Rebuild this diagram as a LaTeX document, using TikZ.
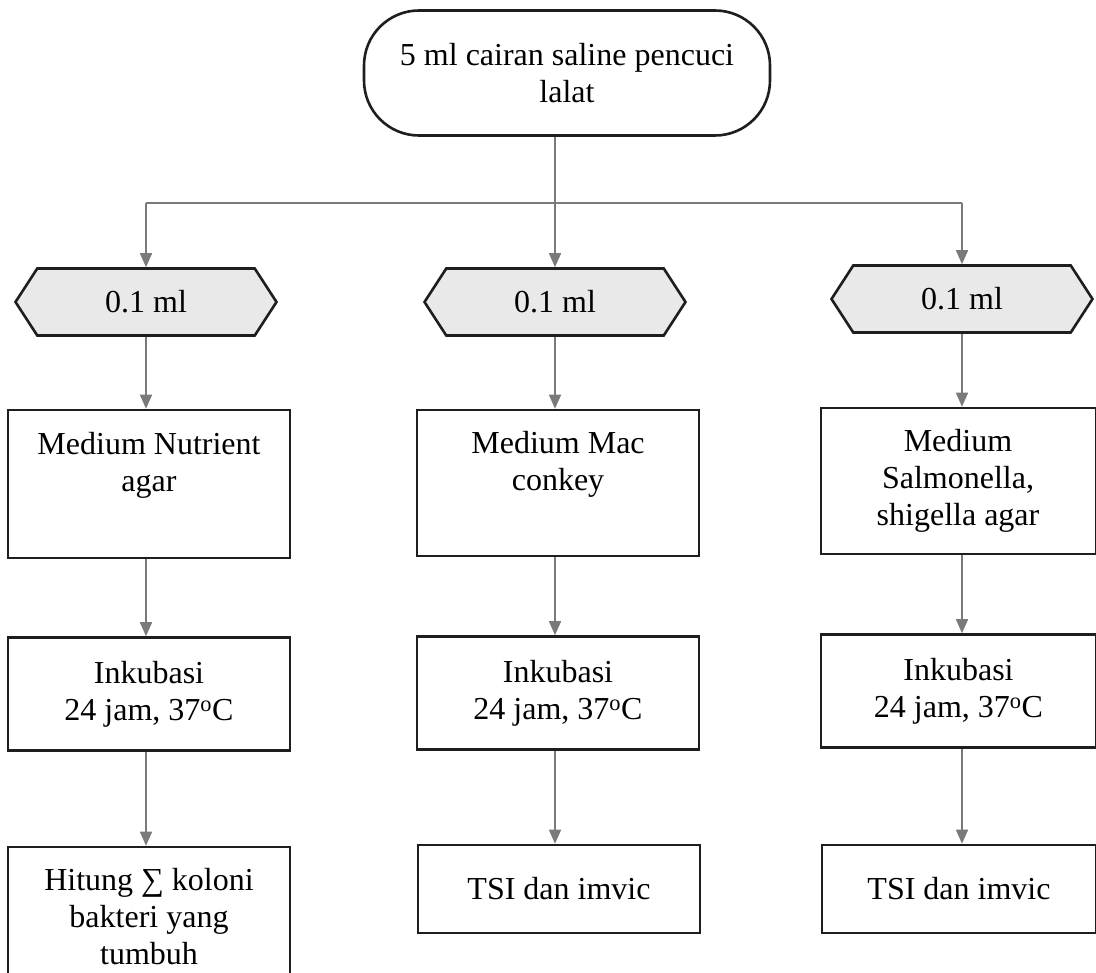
\documentclass[tikz,border=0pt]{standalone}
\usepackage{fontspec}
\setmainfont{Liberation Serif}
\usetikzlibrary{arrows.meta,shapes.symbols}
\definecolor{conncol}{HTML}{7A7A7A}
\definecolor{hexfill}{HTML}{E9E9E9}
\definecolor{edgecol}{HTML}{1E1E1E}
\begin{document}
\begin{tikzpicture}[x=1pt,y=-1pt,
  every node/.style={font=\fontsize{32}{37}\selectfont},
  box/.style={draw=edgecol, line width=2.6pt, fill=white, inner sep=0pt},
  hexa/.style={signal, signal to=east and west, signal pointer angle=114, draw=edgecol, line width=2.6pt, fill=hexfill, minimum width=261pt, minimum height=67pt, inner sep=0pt},
  conn/.style={draw=conncol, line width=1.6pt},
  arr/.style={conn, -{Triangle[width=12pt,length=14pt]}, fill=conncol},
  txt/.style={align=center, inner sep=0pt}
]
\useasboundingbox (0,0) rectangle (1096,973);
\clip (0,0) rectangle (1096,973);

% top terminal
\node[box, rounded corners=55pt, minimum width=406pt, minimum height=125pt, align=center] (top) at (567,73) {5 ml cairan saline pencuci\\lalat};

% hexagons
\node[hexa] (h1) at (146,302) {0.1 ml};
\node[hexa] (h2) at (555,302) {0.1 ml};
\node[hexa] (h3) at (962,299) {0.1 ml};

% row 1
\node[box, minimum width=282pt, minimum height=148pt] (l1) at (149,484) {};
\node[txt, anchor=north] (l1t) at (149,432) {Medium Nutrient\\agar};
\node[box, minimum width=282pt, minimum height=146pt] (m1) at (558,483) {};
\node[txt, anchor=north] (m1t) at (558,431) {Medium Mac\\conkey};
\node[box, minimum width=275pt, minimum height=146pt] (r1) at (958.5,481) {};
\node[txt, anchor=north] (r1t) at (958,429) {Medium\\Salmonella,\\shigella agar};

% row 2
\node[box, minimum width=282pt, minimum height=113pt, align=center] (l2) at (149,694) {Inkubasi\\24 jam, 37\textsuperscript{o}C};
\node[box, minimum width=282pt, minimum height=113pt, align=center] (m2) at (558,693) {Inkubasi\\24 jam, 37\textsuperscript{o}C};
\node[box, minimum width=275pt, minimum height=113pt, align=center] (r2) at (958.5,691) {Inkubasi\\24 jam, 37\textsuperscript{o}C};

% row 3
\node[box, minimum width=282pt, minimum height=140pt, align=center] (l3) at (149,917) {Hitung ∑ koloni\\bakteri yang\\tumbuh};
\node[box, minimum width=282pt, minimum height=88pt, align=center] (m3) at (559,889) {TSI dan imvic};
\node[box, minimum width=274pt, minimum height=88pt, align=center] (r3) at (959,889) {TSI dan imvic};

% connectors
\coordinate (busy) at (0,203);
\draw[arr] (h2.north |- top.south) -- (h2.north);
\draw[conn] (h1.north |- busy) -- (h3.north |- busy);
\draw[arr] (h1.north |- busy) -- (h1.north);
\draw[arr] (h3.north |- busy) -- (h3.north);

\draw[arr] (h1.south) -- (h1.south |- l1.north);
\draw[arr] (h1.south |- l1.south) -- (h1.south |- l2.north);
\draw[arr] (h1.south |- l2.south) -- (h1.south |- l3.north);

\draw[arr] (h2.south) -- (h2.south |- m1.north);
\draw[arr] (h2.south |- m1.south) -- (h2.south |- m2.north);
\draw[arr] (h2.south |- m2.south) -- (h2.south |- m3.north);

\draw[arr] (h3.south) -- (h3.south |- r1.north);
\draw[arr] (h3.south |- r1.south) -- (h3.south |- r2.north);
\draw[arr] (h3.south |- r2.south) -- (h3.south |- r3.north);
\end{tikzpicture}
\end{document}
